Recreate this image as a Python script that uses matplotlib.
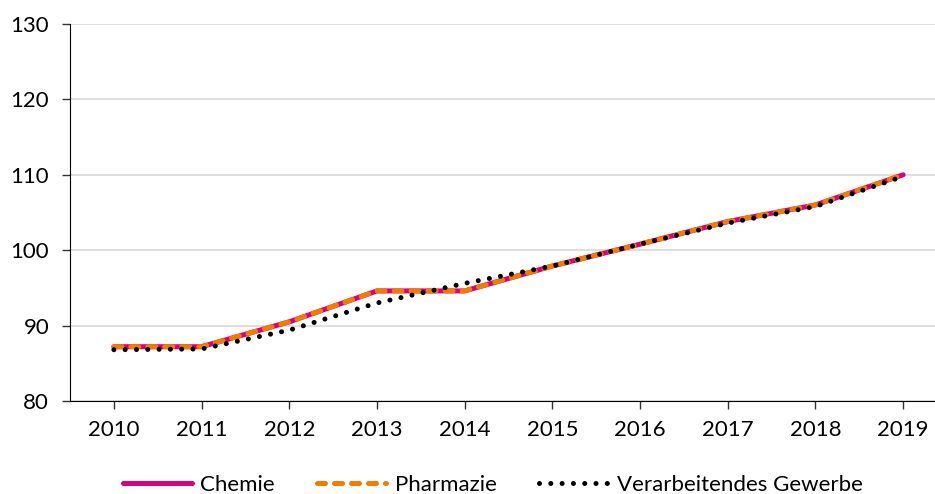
import matplotlib.pyplot as plt
import numpy as np

plt.rcParams['font.family'] = ['Lato', 'DejaVu Sans']

years = ['2010', '2011', '2012', '2013', '2014', '2015', '2016', '2017', '2018', '2019']
chemie = [87.2, 87.2, 90.5, 94.6, 94.6, 97.9, 100.8, 103.8, 106.0, 110.0]
pharmazie = [87.2, 87.2, 90.5, 94.6, 94.6, 97.9, 100.8, 103.8, 106.0, 110.0]
gewerbe = [86.8, 86.9, 89.4, 93.0, 95.6, 97.9, 100.8, 103.6, 105.8, 109.8]

fig = plt.figure(figsize=(9.35, 4.94), dpi=100)
# axis runs off the right edge like the original
ax = fig.add_axes([70/935, (494-401)/494, (947-70)/935, (401-24)/494])

x = np.arange(len(years))
lw = 3.6
ax.plot(x, chemie, color='#D9007E', lw=lw, solid_capstyle='round', label='Chemie', zorder=3)
ax.plot(x, pharmazie, color='#F07D00', lw=lw, ls=(0, (1.6, 1.8)), dash_capstyle='round',
        label='Pharmazie', zorder=4)
ax.plot(x, gewerbe, color='black', lw=lw, ls=(0, (0.01, 2.25)), dash_capstyle='round',
        label='Verarbeitendes Gewerbe', zorder=5)

ax.set_xlim(-0.5, 9.5)
ax.set_ylim(80, 130)
ax.set_yticks(range(80, 131, 10))
ax.set_xticks(x)
ax.set_xticklabels(years)
ax.grid(axis='y', color='#d9d9d9', lw=1.2)
ax.set_axisbelow(True)

for s in ['top', 'right']:
    ax.spines[s].set_visible(False)
ax.spines['left'].set_color('black')
ax.spines['bottom'].set_color('black')
ax.tick_params(axis='both', length=6, width=1, color='#333333', labelsize=16, pad=8)
ax.tick_params(axis='y', pad=9)

fig.legend(loc='center', bbox_to_anchor=(0.527, 0.018), ncol=3, frameon=False,
           fontsize=16, handlelength=3.1, handletextpad=0.4, columnspacing=1.9)

fig.savefig('out.png', dpi=100)
